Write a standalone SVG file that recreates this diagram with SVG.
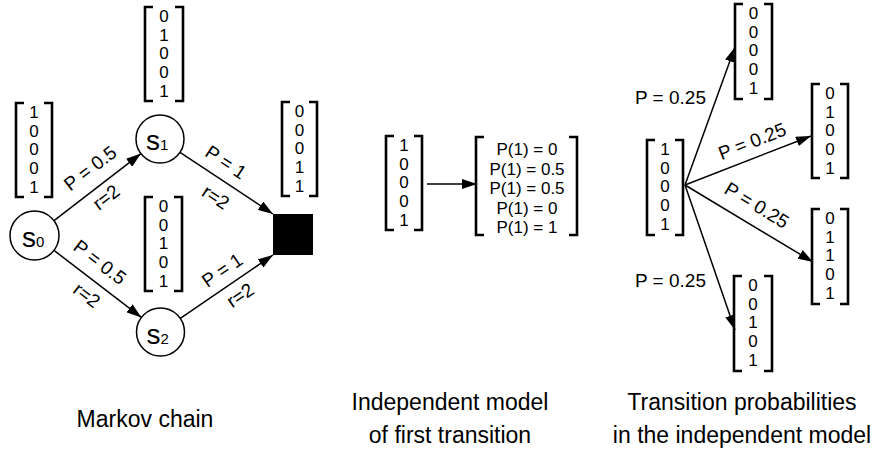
<svg xmlns="http://www.w3.org/2000/svg" width="888" height="450" viewBox="0 0 888 450">
  <style>
    text { font-family: "Liberation Sans", Arial, Helvetica, sans-serif; fill: #000; }
    .br { fill: none; stroke: #000; stroke-width: 2.6; }
    .num { font-size: 17px; text-anchor: middle; }
    .lbl { font-size: 19px; text-anchor: middle; }
    .lbl-l { font-size: 19px; }
    .cap { font-size: 23px; text-anchor: middle; }
    .st { fill: #fff; stroke: #000; stroke-width: 1.5; }
    .sname { font-size: 28px; }
    .sidx { font-size: 15px; }
    .edge { fill: none; stroke: #000; stroke-width: 1.5; marker-end: url(#ah); }
  </style>
  <defs>
    <marker id="ah" markerUnits="userSpaceOnUse" markerWidth="15" markerHeight="10" refX="15" refY="5" orient="auto">
      <path d="M0,0 L15,5 L0,10 z" fill="#000"/>
    </marker>
  </defs>

  <rect width="888" height="450" fill="#fff"/>

  <!-- connectors -->
  <g id="connectors">
    <!-- Markov chain -->
    <line class="edge" x1="54" y1="220.6" x2="141" y2="153.6"/>
    <line class="edge" x1="180" y1="152.3" x2="273" y2="214"/>
    <line class="edge" x1="54" y1="250.4" x2="141.4" y2="317.4"/>
    <line class="edge" x1="180.3" y1="318.4" x2="273" y2="255"/>
    <!-- independent model -->
    <line class="edge" x1="427" y1="184" x2="477" y2="184"/>
    <!-- transition probabilities -->
    <line class="edge" x1="685" y1="185" x2="735" y2="47"/>
    <line class="edge" x1="685" y1="185" x2="811" y2="136"/>
    <line class="edge" x1="685" y1="185" x2="813" y2="262"/>
    <line class="edge" x1="685" y1="185" x2="735" y2="330"/>

    <!-- edge labels -->
    <text class="lbl" transform="translate(90,168) rotate(-37.6)" y="6.8">P = 0.5</text>
    <text class="lbl" transform="translate(106,197) rotate(-37.6)" y="6.8">r=2</text>
    <text class="lbl" transform="translate(226,162) rotate(33.6)" y="6.8">P = 1</text>
    <text class="lbl" transform="translate(216,197) rotate(33.6)" y="6.8">r=2</text>
    <text class="lbl" transform="translate(100,262) rotate(37.5)" y="6.8">P = 0.5</text>
    <text class="lbl" transform="translate(87,295) rotate(37.5)" y="6.8">r=2</text>
    <text class="lbl" transform="translate(222,270) rotate(-34.4)" y="6.8">P = 1</text>
    <text class="lbl" transform="translate(240,295) rotate(-34.4)" y="6.8">r=2</text>

    <text class="lbl-l" x="635" y="104">P = 0.25</text>
    <text class="lbl" transform="translate(752,141) rotate(-21.3)" y="6.8">P = 0.25</text>
    <text class="lbl" transform="translate(757,205) rotate(31)" y="6.8">P = 0.25</text>
    <text class="lbl-l" x="635" y="287">P = 0.25</text>
  </g>

  <!-- states -->
  <g id="s0">
    <circle class="st" cx="34.5" cy="235.5" r="24.5"/>
    <text x="22" y="247"><tspan class="sname">s</tspan><tspan class="sidx">0</tspan></text>
  </g>
  <g id="s1">
    <circle class="st" cx="160" cy="139" r="24"/>
    <text x="146" y="149.5"><tspan class="sname">s</tspan><tspan class="sidx">1</tspan></text>
  </g>
  <g id="s2">
    <circle class="st" cx="160.5" cy="332" r="24"/>
    <text x="146.5" y="343.5"><tspan class="sname">s</tspan><tspan class="sidx">2</tspan></text>
  </g>
  <g id="terminal">
    <rect x="273" y="214" width="40" height="41" fill="#000"/>
  </g>

  <!-- feature vectors of the Markov chain -->
  <g id="vec-s0" transform="translate(16,103)">
    <path class="br" d="M8,0H0V94H8M28,0H36V94H28"/>
    <text class="num"><tspan x="18" y="15">1</tspan><tspan x="18" y="33.7">0</tspan><tspan x="18" y="52.4">0</tspan><tspan x="18" y="71.1">0</tspan><tspan x="18" y="89.8">1</tspan></text>
  </g>
  <g id="vec-s1" transform="translate(145,7)">
    <path class="br" d="M8,0H0V94H8M30,0H38V94H30"/>
    <text class="num"><tspan x="19" y="15">0</tspan><tspan x="19" y="33.7">1</tspan><tspan x="19" y="52.4">0</tspan><tspan x="19" y="71.1">0</tspan><tspan x="19" y="89.8">1</tspan></text>
  </g>
  <g id="vec-s2" transform="translate(145,197)">
    <path class="br" d="M8,0H0V94H8M29,0H37V94H29"/>
    <text class="num"><tspan x="18.5" y="15">0</tspan><tspan x="18.5" y="33.7">0</tspan><tspan x="18.5" y="52.4">1</tspan><tspan x="18.5" y="71.1">0</tspan><tspan x="18.5" y="89.8">1</tspan></text>
  </g>
  <g id="vec-terminal" transform="translate(282,102)">
    <path class="br" d="M8,0H0V94H8M27,0H35V94H27"/>
    <text class="num"><tspan x="17.5" y="15">0</tspan><tspan x="17.5" y="33.7">0</tspan><tspan x="17.5" y="52.4">0</tspan><tspan x="17.5" y="71.1">1</tspan><tspan x="17.5" y="89.8">1</tspan></text>
  </g>

  <!-- independent model of the first transition -->
  <g id="vec-start" transform="translate(386,136)">
    <path class="br" d="M8,0H0V94H8M28,0H36V94H28"/>
    <text class="num"><tspan x="18" y="15">1</tspan><tspan x="18" y="33.7">0</tspan><tspan x="18" y="52.4">0</tspan><tspan x="18" y="71.1">0</tspan><tspan x="18" y="89.8">1</tspan></text>
  </g>
  <g id="vec-prob" transform="translate(476,137)">
    <path class="br" d="M8,0H0V98H8M93,0H101V98H93"/>
    <text class="num"><tspan x="51" y="18">P(1) = 0</tspan><tspan x="51" y="37.5">P(1) = 0.5</tspan><tspan x="51" y="57">P(1) = 0.5</tspan><tspan x="51" y="76.5">P(1) = 0</tspan><tspan x="51" y="96">P(1) = 1</tspan></text>
  </g>

  <!-- transition probabilities in the independent model -->
  <g id="vec-src" transform="translate(647,140)">
    <path class="br" d="M8,0H0V95H8M28,0H36V95H28"/>
    <text class="num"><tspan x="18" y="15">1</tspan><tspan x="18" y="33.7">0</tspan><tspan x="18" y="52.4">0</tspan><tspan x="18" y="71.1">0</tspan><tspan x="18" y="89.8">1</tspan></text>
  </g>
  <g id="vec-t1" transform="translate(735,4)">
    <path class="br" d="M8,0H0V95H8M29,0H37V95H29"/>
    <text class="num"><tspan x="18.5" y="15">0</tspan><tspan x="18.5" y="33.7">0</tspan><tspan x="18.5" y="52.4">0</tspan><tspan x="18.5" y="71.1">0</tspan><tspan x="18.5" y="89.8">1</tspan></text>
  </g>
  <g id="vec-t2" transform="translate(812,84)">
    <path class="br" d="M8,0H0V94H8M28,0H36V94H28"/>
    <text class="num"><tspan x="18" y="15">0</tspan><tspan x="18" y="33.7">1</tspan><tspan x="18" y="52.4">0</tspan><tspan x="18" y="71.1">0</tspan><tspan x="18" y="89.8">1</tspan></text>
  </g>
  <g id="vec-t3" transform="translate(812,209)">
    <path class="br" d="M8,0H0V95H8M28,0H36V95H28"/>
    <text class="num"><tspan x="18" y="15">0</tspan><tspan x="18" y="33.7">1</tspan><tspan x="18" y="52.4">1</tspan><tspan x="18" y="71.1">0</tspan><tspan x="18" y="89.8">1</tspan></text>
  </g>
  <g id="vec-t4" transform="translate(734,276)">
    <path class="br" d="M8,0H0V95H8M30,0H38V95H30"/>
    <text class="num"><tspan x="19" y="15">0</tspan><tspan x="19" y="33.7">0</tspan><tspan x="19" y="52.4">1</tspan><tspan x="19" y="71.1">0</tspan><tspan x="19" y="89.8">1</tspan></text>
  </g>

  <!-- captions -->
  <g id="captions">
    <text class="cap" x="145" y="427">Markov chain</text>
    <text class="cap" x="450" y="410">Independent model</text>
    <text class="cap" x="450" y="443">of first transition</text>
    <text class="cap" x="742" y="410">Transition probabilities</text>
    <text class="cap" x="742" y="443">in the independent model</text>
  </g>
</svg>
